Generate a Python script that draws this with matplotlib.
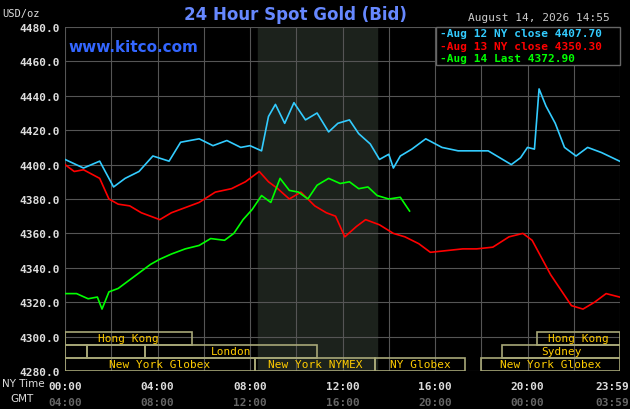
import matplotlib
matplotlib.use("Agg")
import matplotlib.pyplot as plt
from matplotlib.patches import Rectangle

# hours since 00:00 NY time, prices in USD/oz
aug12_h = [0, 0.8, 1.5, 2.1, 2.6, 3.2, 3.8, 4.5, 5.0, 5.8, 6.4, 7.0, 7.6, 8.0, 8.5, 8.8, 9.1, 9.5, 9.9, 10.4,
           10.9, 11.4, 11.8, 12.3, 12.7, 13.2, 13.6, 14.0, 14.2, 14.5, 15.0, 15.6, 16.3, 17.0, 17.8, 18.3,
           18.8, 19.3, 19.7, 20.0, 20.3, 20.5, 20.8, 21.2, 21.6, 22.1, 22.6, 23.2, 23.98]
aug12_v = [4403, 4398, 4402, 4387, 4392, 4396, 4405, 4402, 4413, 4415, 4411, 4414, 4410, 4411, 4408, 4428,
           4435, 4424, 4436, 4426, 4430, 4419, 4424, 4426, 4418, 4412, 4403, 4406, 4398, 4405, 4409, 4415,
           4410, 4408, 4408, 4408, 4404, 4400, 4404, 4410, 4409, 4444, 4434, 4424, 4410, 4405, 4410, 4407,
           4402]

aug13_h = [0, 0.4, 0.8, 1.5, 1.9, 2.3, 2.8, 3.3, 4.1, 4.6, 5.2, 5.8, 6.5, 7.2, 7.8, 8.4, 8.8, 9.2, 9.7,
           10.2, 10.8, 11.3, 11.7, 12.1, 12.6, 13.0, 13.6, 14.2, 14.7, 15.3, 15.8, 16.5, 17.2, 17.8, 18.5,
           19.2, 19.8, 20.2, 20.6, 21.0, 21.5, 21.9, 22.4, 22.9, 23.4, 23.98]
aug13_v = [4400, 4396, 4397, 4392, 4380, 4377, 4376, 4372, 4368, 4372, 4375, 4378, 4384, 4386, 4390, 4396,
           4390, 4386, 4380, 4384, 4376, 4372, 4370, 4358, 4364, 4368, 4365, 4360, 4358, 4354, 4349, 4350,
           4351, 4351, 4352, 4358, 4360, 4356, 4346, 4336, 4326, 4318, 4316, 4320, 4325, 4323]

aug14_h = [0, 0.5, 1.0, 1.4, 1.6, 1.9, 2.3, 2.8, 3.3, 3.7, 4.1, 4.6, 5.2, 5.8, 6.3, 6.9, 7.3, 7.7, 8.1,
           8.5, 8.9, 9.3, 9.7, 10.1, 10.5, 10.9, 11.4, 11.9, 12.3, 12.7, 13.1, 13.5, 14.0, 14.5, 14.9]
aug14_v = [4325, 4325, 4322, 4323, 4316, 4326, 4328, 4333, 4338, 4342, 4345, 4348, 4351, 4353, 4357, 4356,
           4360, 4368, 4374, 4382, 4378, 4392, 4385, 4384, 4380, 4388, 4392, 4389, 4390, 4386, 4387, 4382,
           4380, 4381, 4373]

y_ticks = [4280 + 20 * i for i in range(11)]
ny_labels = ["00:00", "04:00", "08:00", "12:00", "16:00", "20:00", "23:59"]
gmt_labels = ["04:00", "08:00", "12:00", "16:00", "20:00", "00:00", "03:59"]
label_hours = [0, 4, 8, 12, 16, 20, 23.98]

# (row, start, end, label)
sessions = [
    (0, 0, 5.5, "Hong Kong"), (0, 20.4, 24, "Hong Kong"),
    (1, 0, 0.95, ""), (1, 0.95, 3.46, ""), (1, 3.46, 10.9, "London"), (1, 18.9, 24, "Sydney"),
    (2, 0, 8.22, "New York Globex"), (2, 8.22, 13.4, "New York NYMEX"),
    (2, 13.4, 17.3, "NY Globex"), (2, 18.0, 24, "New York Globex"),
]
row_bounds = [(4295.1, 4302.7), (4287.6, 4295.1), (4280, 4287.6)]

mono = "DejaVu Sans Mono"
fig = plt.figure(figsize=(6.3, 4.1), dpi=100, facecolor="black")
ax = fig.add_axes([65 / 630, 38 / 410, 555 / 630, 344 / 410], facecolor="black")
ax.set_xlim(0, 24)
ax.set_ylim(4280, 4480)

ax.axvspan(8.33, 13.5, color="#1c221c", zorder=0)
for h in range(0, 25, 2):
    ax.axvline(h, color="#555555", lw=0.8, zorder=1)
for y in y_ticks:
    ax.axhline(y, color="#555555", lw=0.8, zorder=1)

ax.plot(aug12_h, aug12_v, color="#33ccff", lw=1.2, zorder=3)
ax.plot(aug13_h, aug13_v, color="#ff0000", lw=1.2, zorder=3)
ax.plot(aug14_h, aug14_v, color="#00ff00", lw=1.2, zorder=3)

for row, start, end, label in sessions:
    lo, hi = row_bounds[row]
    ax.add_patch(Rectangle((start, lo), end - start, hi - lo, fill=False,
                           edgecolor="#a8a878", lw=1.2, zorder=4))
    if label:
        ax.text((start + end) / 2, (lo + hi) / 2, label, color="#ffcc00", ha="center",
                va="center", fontsize=8, family=mono, zorder=5)

ax.set_xticks([])
ax.set_yticks(y_ticks)
ax.set_yticklabels([f"{y:.1f}" for y in y_ticks], color="#dddddd", fontsize=8,
                   family=mono, fontweight="bold")
ax.tick_params(axis="y", length=0, pad=4)
for s in ax.spines.values():
    s.set_visible(False)

for i, (h, ny, gmt) in enumerate(zip(label_hours, ny_labels, gmt_labels)):
    ha = "right" if i == len(label_hours) - 1 else "center"
    hx = 24.4 if ha == "right" else h
    ax.text(hx, -0.03, ny, transform=ax.get_xaxis_transform(), color="#dddddd", ha=ha,
            va="top", fontsize=8, family=mono, fontweight="bold")
    ax.text(hx, -0.075, gmt, transform=ax.get_xaxis_transform(), color="#666666", ha=ha,
            va="top", fontsize=8, family=mono, fontweight="bold")
fig.text(2 / 630, 1 - 384 / 410, "NY Time", color="#dddddd", fontsize=7.5, va="center")
fig.text(10 / 630, 1 - 399 / 410, "GMT", color="#dddddd", fontsize=7.5, va="center")

fig.text(2 / 630, 1 - 14 / 410, "USD/oz", color="#dddddd", fontsize=7.5, va="center", family=mono)
fig.text(295 / 630, 1 - 15 / 410, "24 Hour Spot Gold (Bid)", color="#6688ff", fontsize=12,
         ha="center", va="center", fontweight="bold")
fig.text(68 / 630, 1 - 48 / 410, "www.kitco.com", color="#3366ff", fontsize=11, va="center",
         fontweight="bold")
fig.text(610 / 630, 1 - 18 / 410, "August 14, 2026 14:55", color="#cccccc", fontsize=8,
         ha="right", va="center", family=mono)

legend_items = [("Aug 12 NY close 4407.70", "#33ccff"), ("Aug 13 NY close 4350.30", "#ff0000"),
                ("Aug 14 Last 4372.90", "#00ff00")]
fig.patches.append(Rectangle((436 / 630, 1 - 66 / 410), 184 / 630, 38 / 410, transform=fig.transFigure,
                             facecolor="black", edgecolor="#666666", lw=1, zorder=6))
for i, (txt, c) in enumerate(legend_items):
    fig.text(440 / 630, 1 - (34 + 12.5 * i) / 410, "-" + txt, color=c, fontsize=8, family=mono,
             fontweight="bold", va="center", zorder=7)

fig.savefig("out.png", dpi=100, facecolor="black")
